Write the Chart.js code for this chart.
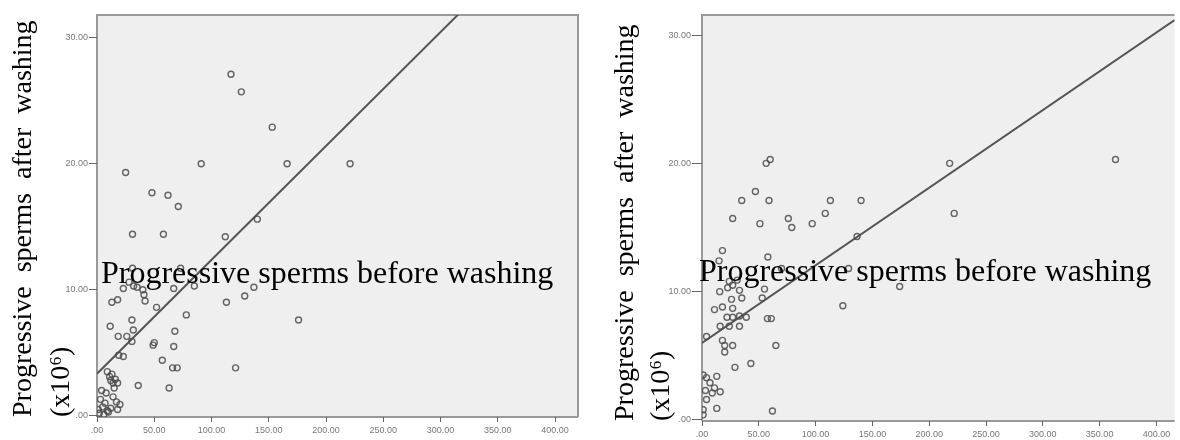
<!DOCTYPE html>
<html>
<head>
<meta charset="utf-8">
<script src="https://cdn.jsdelivr.net/npm/chart.js@4.4.0/dist/chart.umd.min.js"></script>
<style>
  body { margin: 0; background: #fff; }
  #wrap { position: relative; width: 1180px; height: 440px; overflow: hidden; }
  canvas { position: absolute; top: 0; }
  .xlab {
    position: absolute;
    font-family: 'Liberation Serif', 'Times New Roman', serif;
    font-size: 32px;
    line-height: 32px;
    color: #000;
    white-space: nowrap;
  }
</style>
</head>
<body>
<div id="wrap">
  <canvas id="leftChart" width="590" height="440" style="left:0"></canvas>
  <canvas id="rightChart" width="590" height="440" style="left:590px"></canvas>
  <div class="xlab" style="left:101px;top:256px">Progressive sperms before washing</div>
  <div class="xlab" style="left:699px;top:254px">Progressive sperms before washing</div>
</div>
<script>
// axis ticks
const xTickValues = [0, 50, 100, 150, 200, 250, 300, 350, 400];
const xTickLabels = ['.00', '50.00', '100.00', '150.00', '200.00', '250.00', '300.00', '350.00', '400.00'];
const yTickValues = [0, 10, 20, 30];
const yTickLabels = ['.00', '10.00', '20.00', '30.00'];

// left panel: before washing (x) vs after washing (y)
const leftBefore = [117, 126, 153, 91, 166, 221, 25, 48, 62, 71,
  140, 31, 58, 112, 31, 73,
  32, 23, 40, 28, 35, 67, 85, 137, 129, 113,
  42, 41, 13, 18, 52, 78, 176,
  30.5, 11.5, 31.7, 18.5, 26, 68, 30.5,
  49, 50, 67, 23, 19, 57,
  66, 70, 121, 36, 63,
  11, 14, 12, 16, 18, 9, 13,
  17, 18, 3, 5, 8, 10, 2, 6, 14, 20, 4, 1, 12, 7, 15, 9];
const leftAfter = [27.1, 25.7, 22.9, 20.0, 20.0, 20.0, 19.3, 17.7, 17.5, 16.6,
  15.6, 14.4, 14.4, 14.2, 11.7, 11.7,
  10.3, 10.1, 10.0, 10.6, 10.2, 10.1, 10.3, 10.2, 9.5, 9.0,
  9.1, 9.6, 9.0, 9.2, 8.6, 8.0, 7.6,
  7.6, 7.1, 6.8, 6.3, 6.3, 6.7, 5.9,
  5.6, 5.8, 5.5, 4.7, 4.8, 4.4,
  3.8, 3.8, 3.8, 2.4, 2.2,
  3.1, 2.6, 2.8, 2.9, 2.6, 3.5, 3.3,
  1.1, 0.5, 1.3, 0.7, 1.8, 0.3, 0.2, 0.1, 1.5, 0.9, 2.0, 0.5, 0.6, 1.0, 2.2, 0.4];
const leftFit = [3.33, 0.0904]; // intercept, slope

// right panel
const rightBefore = [56.5, 60, 47, 35, 59, 27, 51, 76, 79, 97, 108.5, 113, 140, 136.5, 218, 222, 364, 174,
  18, 15, 58, 129, 124, 70,
  15.6, 22.6, 27, 33, 24, 31,
  11, 18, 26, 35, 27, 55, 53,
  22, 27, 33, 16, 24, 33, 39, 57.6, 61,
  4, 18, 20, 27, 20, 65, 43, 29,
  1, 4, 13, 7, 11, 16, 3, 9, 4, 13, 1, 1, 62];
const rightAfter = [20.0, 20.3, 17.8, 17.1, 17.1, 15.7, 15.3, 15.7, 15.0, 15.3, 16.1, 17.1, 17.1, 14.3, 20.0, 16.1, 20.3, 10.4,
  13.2, 12.4, 12.7, 11.8, 8.9, 11.8,
  10.0, 10.3, 10.5, 10.1, 10.8, 10.9,
  8.6, 8.8, 9.4, 9.5, 8.7, 10.2, 9.5,
  8.0, 8.0, 8.1, 7.3, 7.3, 7.3, 8.0, 7.9, 7.9,
  6.5, 6.2, 5.8, 5.8, 5.3, 5.8, 4.4, 4.1,
  3.5, 3.3, 3.4, 2.9, 2.5, 2.2, 2.3, 2.1, 1.6, 0.9, 0.8, 0.4, 0.7];
const rightFit = [6.0, 0.0605];

const serif = "'Liberation Serif', 'Times New Roman', serif";

const plotFrame = {
  id: 'plotFrame',
  beforeDraw(chart, args, opts) {
    const { ctx, chartArea: a } = chart;
    ctx.save();
    ctx.fillStyle = '#efefef';
    ctx.fillRect(a.left, a.top, a.width, a.height);
    ctx.strokeStyle = '#999';
    ctx.lineWidth = 2;
    ctx.beginPath();
    ctx.moveTo(a.left, a.bottom);
    ctx.lineTo(a.left, a.top);
    ctx.lineTo(a.right, a.top);
    if (opts.right) ctx.lineTo(a.right, a.bottom);
    ctx.moveTo(a.left, a.bottom);
    ctx.lineTo(a.right, a.bottom);
    ctx.stroke();
    ctx.restore();
  }
};

function drawPanel(id, before, after, fit, o) {
  const points = before.map((x, i) => ({ x: x, y: after[i] }));
  const fitLine = [o.xMin, o.xMax].map(x => ({ x: x, y: fit[0] + fit[1] * x }));

  new Chart(document.getElementById(id), {
    data: {
      datasets: [
        {
          type: 'scatter',
          data: points,
          pointRadius: 3,
          pointBorderWidth: 1.4,
          borderColor: 'rgba(75,75,75,0.85)',
          backgroundColor: 'rgba(0,0,0,0)'
        },
        {
          type: 'line',
          data: fitLine,
          borderColor: '#555',
          borderWidth: 2,
          pointRadius: 0,
          clip: 0
        }
      ]
    },
    options: {
      responsive: false,
      animation: false,
      layout: { padding: { left: 0, top: 15, right: o.padRight, bottom: 0 } },
      plugins: {
        legend: { display: false },
        tooltip: { enabled: false },
        plotFrame: { right: o.frameRight }
      },
      scales: {
        x: {
          type: 'linear',
          min: o.xMin,
          max: o.xMax,
          afterBuildTicks: s => { s.ticks = xTickValues.map(v => ({ value: v })); },
          afterFit: s => { s.height = o.xAxisH; },
          border: { display: false },
          grid: { drawOnChartArea: false, tickLength: 5, color: '#666' },
          ticks: {
            autoSkip: false,
            maxRotation: 0,
            padding: 3,
            color: '#777',
            font: { family: 'Arial', size: 9 },
            callback: v => xTickLabels[xTickValues.indexOf(v)]
          }
        },
        y: {
          type: 'linear',
          min: o.yMin,
          max: o.yMax,
          afterBuildTicks: s => { s.ticks = yTickValues.map(v => ({ value: v })); },
          afterFit: s => { s.width = o.yAxisW; },
          border: { display: false },
          grid: { drawOnChartArea: false, tickLength: o.yTickLen, color: '#666' },
          ticks: {
            padding: 1,
            color: '#777',
            font: { family: 'Arial', size: 9 },
            callback: v => yTickLabels[yTickValues.indexOf(v)]
          },
          title: {
            display: true,
            text: ['Progressive  sperms  after  washing', '(x10\u2076)'],
            align: 'start',
            color: '#000',
            font: { family: serif, size: 28, lineHeight: o.titleLH },
            padding: { top: o.titlePad, bottom: 0 }
          }
        }
      }
    },
    plugins: [plotFrame]
  });
}

drawPanel('leftChart', leftBefore, leftAfter, leftFit, {
  xMin: 0, xMax: 420, yMin: -0.1, yMax: 31.8,
  yAxisW: 97, xAxisH: 23, padRight: 12, frameRight: true,
  yTickLen: 8, titlePad: 5, titleLH: 1.35
});

drawPanel('rightChart', rightBefore, rightAfter, rightFit, {
  xMin: 0, xMax: 416, yMin: -0.08, yMax: 31.56,
  yAxisW: 112, xAxisH: 19, padRight: 0, frameRight: false,
  yTickLen: 10, titlePad: 18, titleLH: 1.27
});
</script>
</body>
</html>
